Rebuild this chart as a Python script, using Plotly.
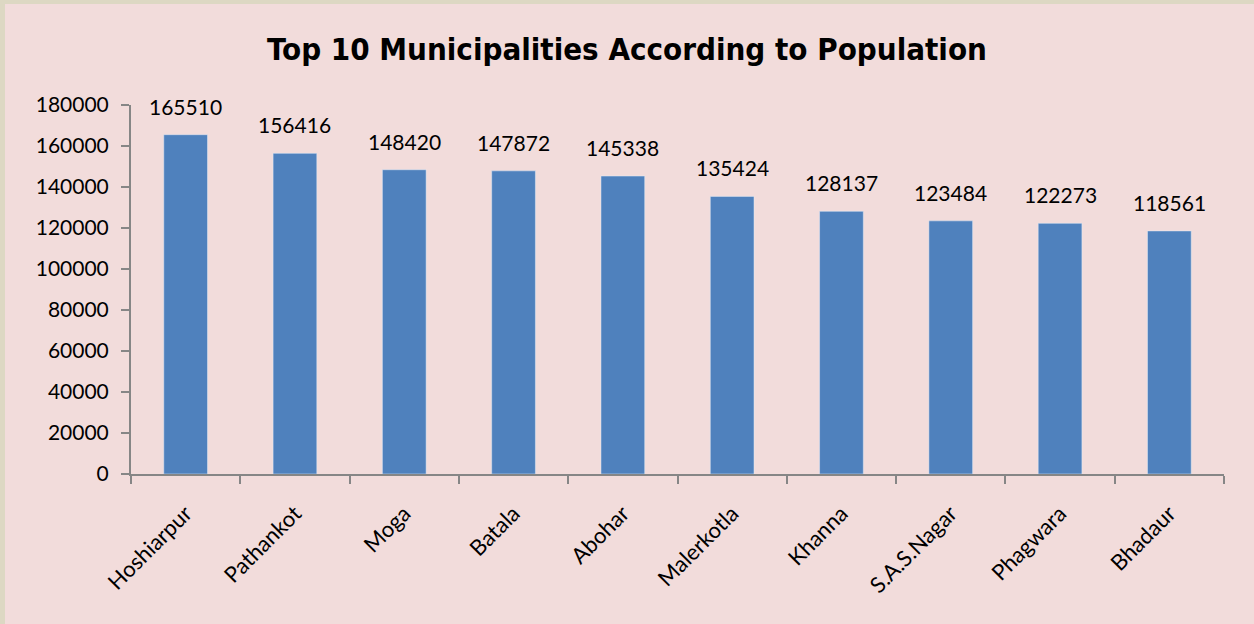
import plotly.graph_objects as go

cities = ['Hoshiarpur', 'Pathankot', 'Moga', 'Batala', 'Abohar',
          'Malerkotla', 'Khanna', 'S.A.S.Nagar', 'Phagwara', 'Bhadaur']
population = [165510, 156416, 148420, 147872, 145338,
              135424, 128137, 123484, 122273, 118561]
y_ticks = list(range(0, 180001, 20000))

W, H = 1254, 624
ML, MR, MT, MB = 131, 30, 105, 150
pw, ph = W - ML - MR, H - MT - MB

fig = go.Figure(go.Bar(
    x=cities, y=population,
    marker_color='#4F81BD',
    cliponaxis=False,
))

# value labels sitting a little above each bar
for c, v in zip(cities, population):
    fig.add_annotation(x=c, y=v, text=str(v), showarrow=False,
                       yanchor='bottom', yshift=14,
                       font=dict(family='Lato', size=21, color='black'))

# beige frame on left and top edges
def px_x(p):
    return (p - ML) / pw

def px_y(p):
    return 1 - (p - MT) / ph

fig.add_shape(type='rect', xref='paper', yref='paper',
              x0=px_x(0), x1=px_x(5), y0=px_y(H), y1=px_y(0),
              fillcolor='#DDD8C3', line_width=0, layer='below')
fig.add_shape(type='rect', xref='paper', yref='paper',
              x0=px_x(0), x1=px_x(W), y0=px_y(4), y1=px_y(0),
              fillcolor='#DDD8C3', line_width=0, layer='below')

fig.update_layout(
    width=W, height=H,
    margin=dict(l=ML, r=MR, t=MT, b=MB),
    paper_bgcolor='#F2DCDB', plot_bgcolor='#F2DCDB',
    bargap=0.6,
    showlegend=False,
    title=dict(text='<b>Top 10 Municipalities According to Population</b>',
               x=0.5, xanchor='center', y=1 - 49 / H, yanchor='middle',
               font=dict(family='DejaVu Sans Condensed', size=31, color='black')),
    font=dict(family='Lato', size=21, color='black'),
)
fig.update_xaxes(showline=True, linecolor='#868686', linewidth=2,
                 ticks='outside', tickson='boundaries', ticklen=8,
                 tickcolor='#868686', tickwidth=2, tickangle=-45,
                 ticklabelstandoff=16,
                 showgrid=False, tickfont=dict(family='Lato', size=22))
fig.update_yaxes(range=[0, 180000], tickvals=y_ticks, tickformat='d',
                 showline=True, linecolor='#868686', linewidth=2,
                 ticks='outside', ticklen=8, tickcolor='#868686', tickwidth=2,
                 ticklabelstandoff=8,
                 showgrid=False, zeroline=False,
                 tickfont=dict(family='Lato', size=21))

fig.write_html('out.html', config={'displayModeBar': False},
               post_script="document.body.style.margin='0';")
